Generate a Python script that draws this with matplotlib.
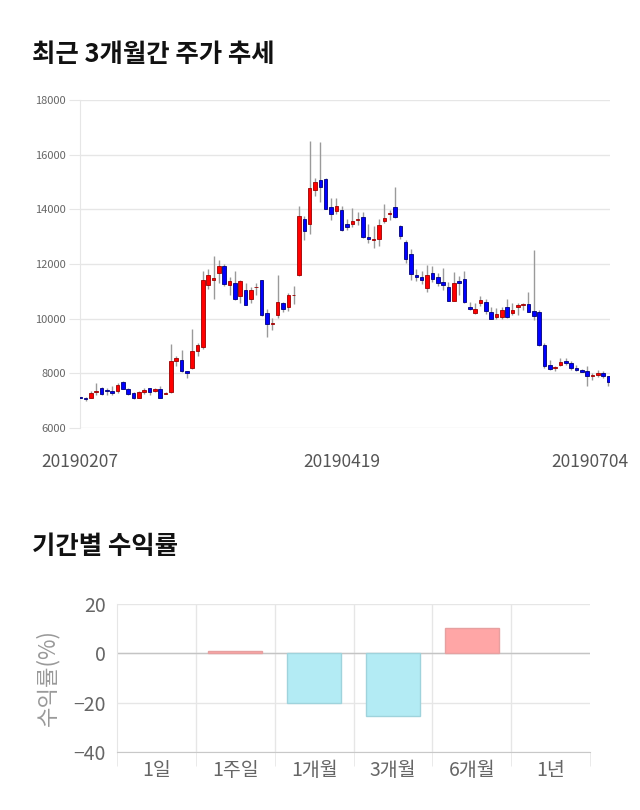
import matplotlib
matplotlib.use("Agg")
import matplotlib.pyplot as plt
from matplotlib.transforms import ScaledTranslation

plt.rcParams["font.family"] = ["Noto Sans CJK KR", "DejaVu Sans"]

# daily candles, 2019-02-07 .. 2019-07-04
opens = [7150, 7090, 7090, 7330, 7450, 7390, 7370, 7340, 7700, 7440,
         7280, 7100, 7300, 7460, 7350, 7440, 7250, 7300, 8450, 8480,
         8100, 8180, 8820, 8950, 11240, 11430, 11670, 11910, 11230, 11300,
         10820, 11060, 10720, 11150, 11410, 10210, 9830, 10120, 10570, 10410,
         10860, 11610, 13660, 13460, 14720, 15090, 15120, 14070, 13930, 13960,
         13460, 13460, 13610, 13720, 12980, 12900, 12910, 13580, 13820, 14070,
         13380, 12820, 12370, 11610, 11510, 11120, 11670, 11510, 11330, 11160,
         10660, 11370, 11460, 10430, 10210, 10570, 10620, 10230, 10050, 10050,
         10430, 10210, 10410, 10510, 10520, 10290, 10230, 9050, 8320, 8200,
         8320, 8460, 8370, 8210, 8130, 8070, 7890, 7930, 8020, 7890]
highs = [7170, 7150, 7370, 7650, 7490, 7460, 7520, 7650, 7720, 7460,
         7300, 7370, 7450, 7480, 7480, 7520, 7320, 9070, 8620, 8870,
         8100, 9630, 9110, 11730, 11820, 12300, 12160, 12010, 11520, 11760,
         11430, 11300, 11160, 11300, 11430, 10350, 10020, 11600, 10600, 10940,
         11210, 14130, 13740, 16510, 15150, 16460, 15150, 14410, 14410, 14110,
         13650, 14050, 13890, 13890, 13460, 13400, 13650, 14210, 13990, 14820,
         13440, 12890, 12550, 11830, 11730, 11980, 11910, 11670, 11850, 11330,
         11710, 11570, 11760, 10620, 10570, 10820, 10720, 10430, 10390, 10430,
         10720, 10570, 10570, 10570, 10980, 12520, 10330, 9110, 8480, 8280,
         8560, 8550, 8440, 8300, 8150, 8260, 8010, 8130, 8100, 7900]
lows = [7080, 7000, 7080, 7220, 7210, 7220, 7220, 7280, 7420, 7220,
        7060, 7080, 7260, 7220, 7320, 7100, 7240, 7290, 8260, 8040,
        7830, 8150, 8620, 8900, 11080, 10720, 11300, 11180, 10880, 10700,
        10570, 10500, 10570, 10880, 10100, 9330, 9600, 10020, 10230, 10270,
        10540, 11550, 12870, 13110, 14500, 14260, 14000, 13620, 13840, 13200,
        13260, 13350, 13440, 12950, 12770, 12590, 12670, 13500, 13600, 13680,
        12910, 12040, 11430, 11370, 11270, 10980, 11330, 11180, 11040, 10630,
        10650, 10880, 10570, 10330, 10180, 10450, 10180, 9990, 10000, 10000,
        10020, 10150, 10150, 10330, 10230, 9960, 9010, 8200, 8130, 8070,
        8280, 8320, 8130, 8090, 8040, 7550, 7770, 7870, 7830, 7550]
closes = [7100, 7080, 7280, 7350, 7260, 7370, 7270, 7590, 7440, 7260,
          7085, 7320, 7400, 7300, 7430, 7110, 7290, 8460, 8550, 8085,
          8000, 8830, 9050, 11430, 11610, 11470, 11910, 11270, 11370, 10720,
          11380, 10510, 11060, 11170, 10120, 9800, 9840, 10610, 10370, 10870,
          10880, 13770, 13220, 14770, 15010, 14800, 14010, 13830, 14110, 13260,
          13370, 13560, 13630, 12980, 12910, 12910, 13440, 13670, 13870, 13720,
          13040, 12180, 11630, 11510, 11400, 11610, 11460, 11300, 11220, 10660,
          11300, 11300, 10620, 10350, 10370, 10670, 10270, 10000, 10170, 10330,
          10050, 10330, 10510, 10530, 10260, 10110, 9050, 8280, 8160, 8210,
          8430, 8380, 8180, 8110, 8060, 7910, 7940, 8020, 7890, 7700]
date_labels = ["20190207", "20190419", "20190704"]

# period returns (%)
periods = ["1일", "1주일", "1개월", "3개월", "6개월", "1년"]
returns = [0.0, 0.8, -20.0, -25.6, 10.4, 0.0]

GRID = "#e6e6e6"

fig = plt.figure(figsize=(6.4, 8.1), dpi=100)
fig.patch.set_facecolor("white")

fig.text(32 / 640, 1 - 55 / 810, "최근 3개월간 주가 추세", fontsize=18.3,
         fontweight="bold", color="#111111", va="center", ha="left")
fig.text(32 / 640, 1 - 546 / 810, "기간별 수익률", fontsize=18.3,
         fontweight="bold", color="#111111", va="center", ha="left")

# ---- candlestick chart ----
ax = fig.add_axes([80 / 640, 1 - 428 / 810, 530 / 640, 328 / 810])
xs = list(range(len(opens)))
ax.vlines(xs, lows, highs, color="#9a9a9a", linewidth=1, zorder=2)
for i, (o, c) in enumerate(zip(opens, closes)):
    up = c >= o
    face = "#ff0000" if up else "#0000ff"
    edge = "#9a0000" if up else "#00007a"
    h = max(abs(c - o), 25)
    ax.bar(i, h, bottom=min(o, c) - (h - abs(c - o)) / 2, width=0.68,
           color=face, edgecolor=edge, linewidth=0.6, zorder=3)

ax.set_ylim(6000, 18000)
ax.set_yticks(range(6000, 18001, 2000))
ax.set_xlim(-0.05, 99.3)
ax.grid(axis="y", color=GRID, linewidth=1)
ax.set_axisbelow(True)
for s in ["top", "right", "bottom"]:
    ax.spines[s].set_visible(False)
ax.spines["left"].set_color(GRID)
ax.tick_params(axis="y", length=8, color=GRID, labelsize=8, labelcolor="#666666", pad=2)
ax.set_xticks([0, 49, 99])
ax.set_xticklabels(date_labels)
ax.tick_params(axis="x", length=0, labelsize=12.5, labelcolor="#555555", pad=18)
last = ax.get_xticklabels()[-1]
last.set_transform(last.get_transform() + ScaledTranslation(-0.19, 0, fig.dpi_scale_trans))

# ---- returns bar chart ----
bx = fig.add_axes([117 / 640, 1 - 752 / 810, 473 / 640, 148 / 810])
cols = ["#ffa6a6" if r > 0 else "#b3ebf4" for r in returns]
edges = ["#e6a0a0" if r > 0 else "#9fd3dc" for r in returns]
widths = [1 if r != 0 else 0 for r in returns]
bx.bar(range(len(periods)), returns, width=0.69, color=cols, edgecolor=edges,
       linewidth=widths, zorder=3)
bx.set_xlim(-0.5, len(periods) - 0.5)
bx.set_ylim(-40, 20)
bx.set_yticks([-40, -20, 0, 20])
bx.grid(axis="y", color=GRID, linewidth=1)
bx.axhline(0, color="#c4c4c4", linewidth=1, zorder=2)
for b in [x + 0.5 for x in range(len(periods) - 1)]:
    bx.axvline(b, color=GRID, linewidth=1, zorder=1)
bx.set_axisbelow(True)
bx.set_xticks(range(len(periods)))
bx.set_xticklabels(periods)
bx.set_xticks([x - 0.5 for x in range(len(periods) + 1)], minor=True)
bx.tick_params(axis="x", which="major", length=0, labelsize=14, labelcolor="#666666", pad=6)
bx.tick_params(axis="x", which="minor", length=10, color=GRID)
bx.tick_params(axis="y", length=0, labelsize=14, labelcolor="#666666", pad=8)
for s in ["top", "right"]:
    bx.spines[s].set_visible(False)
bx.spines["left"].set_color(GRID)
bx.spines["bottom"].set_color("#c8c8c8")
bx.set_ylabel("수익률(%)", fontsize=16, color="#999999", labelpad=10)

fig.savefig("out.png", dpi=100, facecolor="white")
